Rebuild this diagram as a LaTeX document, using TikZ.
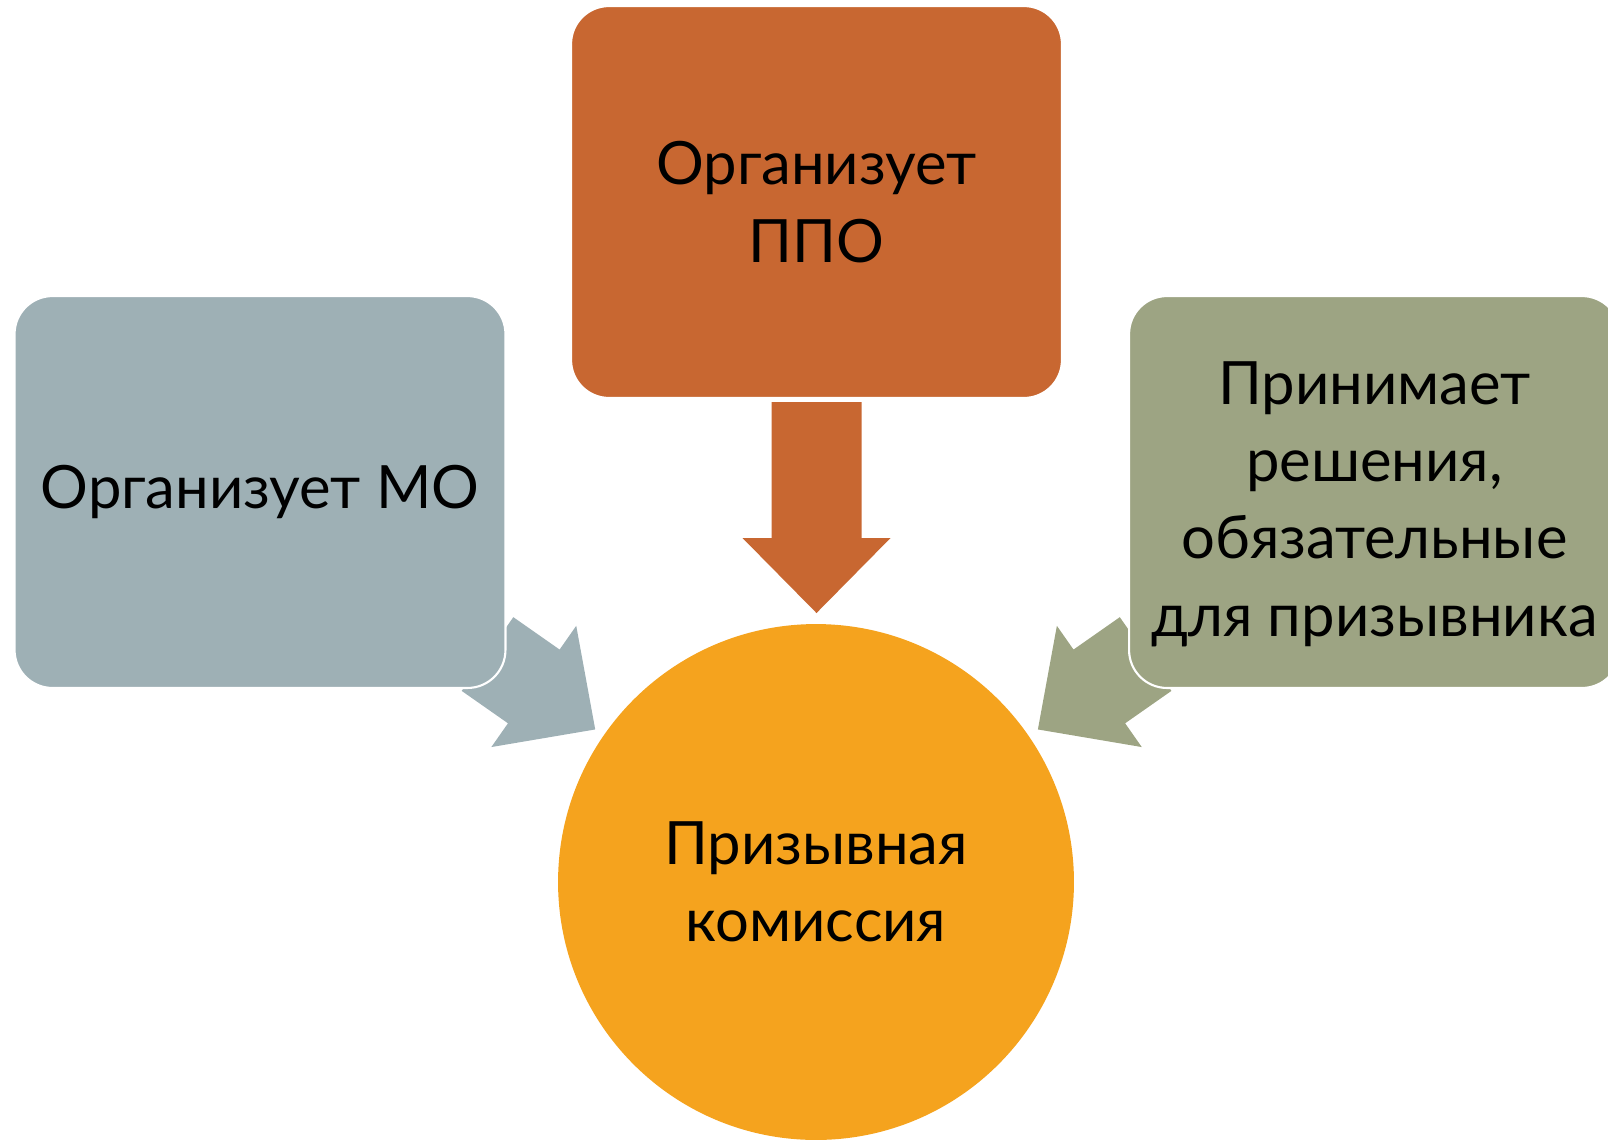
\documentclass[tikz,border=0pt]{standalone}
\usepackage{fontspec}
\setmainfont{Lato}
\usetikzlibrary{calc,backgrounds}

\definecolor{ppocolor}{RGB}{200,103,49}
\definecolor{mocolor}{RGB}{158,176,181}
\definecolor{reshcolor}{RGB}{157,164,131}
\definecolor{komcolor}{RGB}{245,163,30}

\newcommand{\blockarrow}[4]{%
    \fill[#1, shift={(#2)}, rotate=#3] (0,-45) -- (#4-75,-45) -- (#4-75,-74) -- (#4,0)
        -- (#4-75,74) -- (#4-75,45) -- (0,45) -- cycle;}

\begin{document}
\begin{tikzpicture}[x=0.02cm, y=-0.02cm,
        box/.style={draw=white, line width=1.2pt, rounded corners=0.76cm,
            minimum width=9.82cm, minimum height=7.84cm, inner sep=0pt,
            align=center, font=\fontsize{34}{44}\selectfont},
        kom/.style={circle, fill=komcolor, minimum size=10.32cm, inner sep=0pt,
            align=center, font=\fontsize{34}{44}\selectfont}]
        \useasboundingbox (0,0) rectangle (1608,1140);

        \node[box, fill=ppocolor] (ppo) at (816.5,202) {Организует\\ППО};
        \node[box, fill=mocolor] (mo) at (260,492) {Организует МО};
        \node[box, fill=reshcolor] (resh) at (1374.5,492)
            {\\[-6pt]Принимает\\решения,\\обязательные\\для призывника};
        \node[kom] (pk) at (816,882) {Призывная\\комиссия};

        \begin{scope}[on background layer]
            \blockarrow{ppocolor}{$(ppo.south)+(0,3)$}{-90}{211}
            \blockarrow{mocolor}{$(mo.south east)+(-19,-35)$}{-35}{131.5}
            \blockarrow{reshcolor}{$(resh.south west)+(17.6,-35)$}{-145}{131.5}
        \end{scope}
    \end{tikzpicture}
\end{document}
